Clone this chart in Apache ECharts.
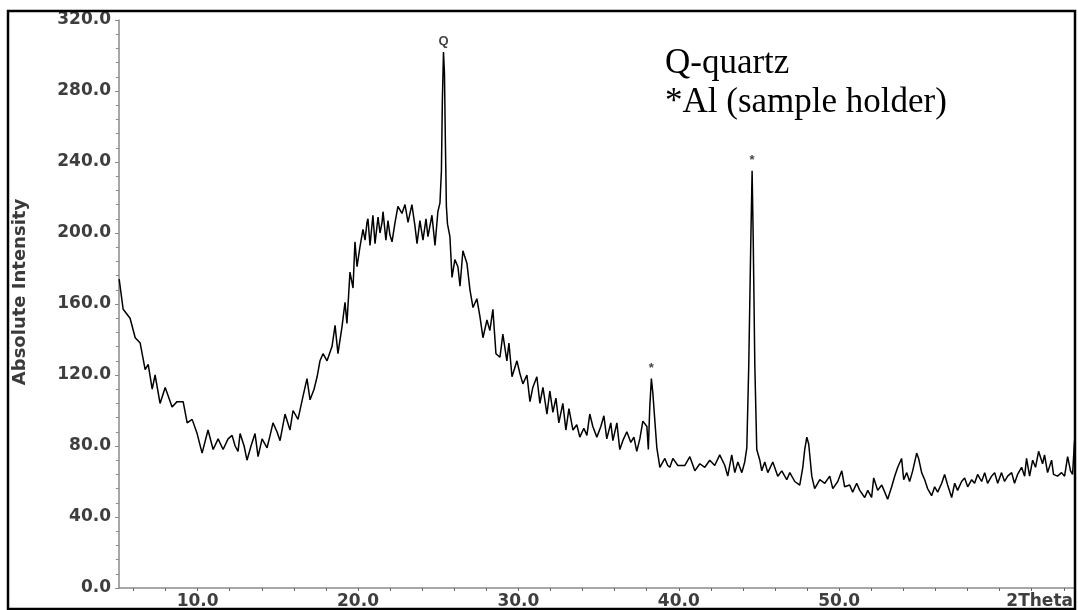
<!DOCTYPE html>
<html>
<head>
<meta charset="utf-8">
<script src="https://cdn.jsdelivr.net/npm/echarts@6/dist/echarts.min.js"></script>
<style>
html,body{margin:0;padding:0;background:#fff;}
#chart{width:1078px;height:610px;}
</style>
</head>
<body>
<div id="chart"></div>
<script>
// 2Theta (degrees)
const angle = [
5.11,5.17,5.36,5.79,6.11,6.42,6.73,6.92,7.17,7.35,7.66,7.98,8.41,8.72,9.10,9.35,9.66,9.97,
10.28,10.65,10.97,11.28,11.59,11.90,12.15,12.34,12.52,12.65,12.90,13.08,13.33,13.58,13.77,14.02,14.33,14.52,14.70,14.95,
15.14,15.45,15.76,15.95,16.26,16.57,16.82,17.01,17.26,17.45,17.63,17.82,18.07,18.38,18.57,18.75,19.00,19.19,19.31,19.50,19.69,19.81,19.94,
20.12,20.31,20.44,20.56,20.62,20.75,20.93,21.06,21.25,21.37,21.50,21.56,21.74,21.87,21.99,22.12,22.31,22.49,22.74,22.93,23.12,23.36,23.55,23.68,23.86,
24.05,24.24,24.36,24.61,24.80,24.98,25.11,25.20,25.26,25.33,25.39,25.45,25.51,25.58,25.73,25.86,26.04,26.23,26.36,26.54,26.79,26.98,
27.17,27.41,27.60,27.79,28.04,28.22,28.41,28.60,28.85,29.03,29.28,29.41,29.60,29.91,30.09,30.28,30.53,30.72,30.90,31.15,31.34,31.53,31.78,31.96,
32.15,32.34,32.52,32.77,32.96,33.15,33.40,33.64,33.83,34.08,34.27,34.45,34.64,34.89,35.14,35.33,35.51,35.76,35.89,36.14,36.32,36.51,36.76,
37.01,37.20,37.38,37.57,37.76,38.01,38.10,38.19,38.29,38.38,38.50,38.63,38.82,39.13,39.31,39.44,39.63,39.75,39.94,
40.06,40.37,40.69,41.00,41.31,41.62,41.93,42.24,42.55,42.87,43.05,43.30,43.49,43.68,43.93,44.11,44.24,44.36,44.49,44.57,44.64,44.74,44.86,
45.05,45.17,45.36,45.55,45.86,46.17,46.42,46.73,46.92,47.23,47.54,47.73,47.85,47.98,48.10,48.29,48.47,48.79,49.10,49.41,49.60,49.91,
50.16,50.34,50.65,50.84,51.09,51.28,51.59,51.78,52.02,52.15,52.40,52.65,52.84,53.02,53.27,53.46,53.65,53.89,54.02,54.21,54.39,54.58,54.83,54.95,
55.14,55.33,55.51,55.76,55.95,56.14,56.39,56.57,56.76,57.01,57.20,57.38,57.63,57.82,58.01,58.26,58.44,58.63,58.88,59.07,59.25,59.50,59.69,59.88,
60.12,60.31,60.50,60.75,60.93,61.12,61.37,61.56,61.68,61.87,62.06,62.24,62.43,62.68,62.80,62.99,63.24,63.36,63.61,63.86,64.05,64.24,64.42,64.55,64.67
];
// Absolute intensity
const intensity = [
174,173,157,152,141,138,123,126,112,120,104,113,102,105,105,93,95,87,
76,89,78,84,78,84,86,80,77,87,80,72,80,87,74,84,79,86,93,88,
83,98,89,100,95,108,118,106,112,119,128,132,128,136,148,132,147,161,149,178,169,195,181,
192,202,196,206,208,193,210,194,209,200,206,212,196,207,199,195,206,215,211,216,206,216,204,194,207,
196,208,198,210,193,212,217,235,275,302,290,250,215,205,198,175,185,181,170,190,183,168,
158,163,153,141,151,145,157,132,130,143,128,138,119,128,121,115,120,105,113,119,104,113,98,111,
99,107,93,104,89,101,89,92,85,90,86,98,91,85,91,97,84,93,83,93,78,83,88,
82,85,77,84,94,91,78,102,118,110,95,79,68,73,69,68,73,72,69,
68,69,74,66,70,68,72,69,75,69,63,75,65,71,65,71,79,125,196,235,196,125,78,
72,66,71,65,71,63,66,61,65,60,58,68,78,85,81,63,56,61,59,63,56,60,
66,57,58,54,59,55,51,55,51,62,55,58,54,50,57,63,68,73,61,65,60,66,76,73,
65,61,56,52,57,54,59,64,58,51,59,55,60,62,57,61,59,64,60,65,59,63,65,59,
65,60,63,65,59,64,68,63,73,63,72,68,77,70,75,65,72,64,63,65,63,74,66,64,83
];
// Peak annotations
const peakAngle = [25.33, 38.29, 44.57];
const peakIntensity = [302, 118, 235];
const peakLabel = ['Q', '*', '*'];
// Axis ticks / labels
const xLabelValues = [10, 20, 30, 40, 50];
const xTickValues = [6,8,10,12,14,16,18,20,22,24,26,28,30,32,34,36,38,40,42,44,46,48,50,52,54,56,58,60,62,64];
const legendLines = ['Q-quartz', '*Al (sample holder)'];

const chart = echarts.init(document.getElementById('chart'), null, {renderer: 'canvas'});
const axisGray = '#8a8a8a';
const sans = '"DejaVu Sans", Verdana, sans-serif';
const labelFont = {fontFamily: sans, fontSize: 17, fontWeight: 'bold', color: '#3e3e3e'};

chart.setOption({
  animation: false,
  backgroundColor: '#fff',
  grid: {left: 119, right: 3, top: 20, bottom: 22, containLabel: false},
  xAxis: {
    type: 'value', min: 5.1, max: 64.7,
    name: '2Theta', nameLocation: 'end', nameGap: -2,
    nameTextStyle: Object.assign({}, labelFont, {align: 'right', verticalAlign: 'top', padding: [5, 0, 0, 0]}),
    axisLine: {show: true, lineStyle: {color: axisGray, width: 1.5}},
    axisTick: {show: true, customValues: xTickValues, length: 3, lineStyle: {color: '#666', width: 1}},
    axisLabel: Object.assign({}, labelFont, {customValues: xLabelValues, margin: 5, formatter: v => v.toFixed(1)}),
    splitLine: {show: false}
  },
  yAxis: {
    type: 'value', min: 0, max: 320, interval: 40,
    name: 'Absolute Intensity', nameLocation: 'middle', nameGap: 90, nameRotate: 90,
    nameTextStyle: {fontFamily: sans, fontSize: 18, fontWeight: 'bold', color: '#3a3a3a', padding: [0, 0, 0, 24]},
    axisLine: {show: true, lineStyle: {color: axisGray, width: 1.5}},
    axisTick: {show: true, length: 4, lineStyle: {color: axisGray, width: 1}},
    minorTick: {show: true, splitNumber: 5, length: 3, lineStyle: {color: axisGray, width: 1}},
    axisLabel: Object.assign({}, labelFont, {margin: 8, formatter: v => v.toFixed(1)}),
    splitLine: {show: false}
  },
  series: [
    {
      type: 'line',
      data: angle.map((a, i) => [a, intensity[i]]),
      showSymbol: false,
      symbol: 'none',
      lineStyle: {color: '#000', width: 1.5},
      z: 3
    },
    {
      type: 'scatter',
      data: peakAngle.map((a, i) => ({value: [a, peakIntensity[i]], name: peakLabel[i]})),
      symbolSize: 0,
      label: {
        show: true, position: 'top', distance: 4,
        formatter: p => p.name,
        fontFamily: '"Liberation Sans", Arial, sans-serif', fontSize: 13, fontWeight: 'bold', color: '#111'
      },
      z: 4
    }
  ],
  graphic: [
    {type: 'text', left: 665, top: 46, style: {text: legendLines[0], font: '35px "Liberation Serif", "Times New Roman", serif', fill: '#000'}},
    {type: 'text', left: 665, top: 85, style: {text: legendLines[1], font: '35px "Liberation Serif", "Times New Roman", serif', fill: '#000'}},
    {type: 'rect', shape: {x: 8, y: 11, width: 1067, height: 598}, style: {fill: 'none', stroke: '#000', lineWidth: 2.5}, z: 100, silent: true}
  ]
});
</script>
</body>
</html>
